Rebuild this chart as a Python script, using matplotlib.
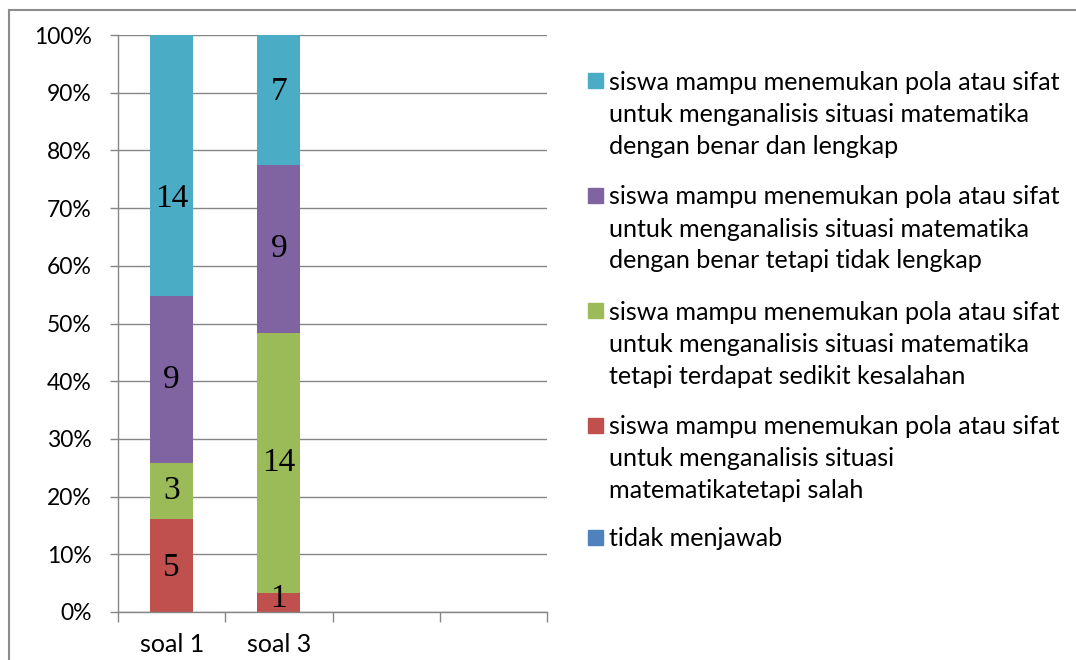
import matplotlib
matplotlib.use("Agg")
import matplotlib.pyplot as plt
from matplotlib.patches import Rectangle
from matplotlib.lines import Line2D
import numpy as np

# ---- data ----
categories = ["soal 1", "soal 3", "", ""]
series_names = [
    "tidak menjawab",
    "siswa mampu menemukan pola atau sifat\nuntuk menganalisis situasi\nmatematikatetapi salah",
    "siswa mampu menemukan pola atau sifat\nuntuk menganalisis situasi matematika\ntetapi terdapat sedikit kesalahan",
    "siswa mampu menemukan pola atau sifat\nuntuk menganalisis situasi matematika\ndengan benar tetapi tidak lengkap",
    "siswa mampu menemukan pola atau sifat\nuntuk menganalisis situasi matematika\ndengan benar dan lengkap",
]
tidak_menjawab = [0, 0]
salah = [5, 1]
sedikit_kesalahan = [3, 14]
tidak_lengkap = [9, 9]
benar_lengkap = [14, 7]
y_ticks = [0, 10, 20, 30, 40, 50, 60, 70, 80, 90, 100]
y_tick_labels = [f"{v}%" for v in y_ticks]

colors = ["#4F81BD", "#C0504D", "#9BBB59", "#8064A2", "#4BACC6"]
series = [tidak_menjawab, salah, sedikit_kesalahan, tidak_lengkap, benar_lengkap]

W, H = 1076, 660
fig = plt.figure(figsize=(W / 100, H / 100), dpi=100)

def fx(px):
    return px / W

def fy(py):
    return 1 - py / H

ax = fig.add_axes([fx(118), fy(612), fx(547) - fx(118), fy(35) - fy(612)])

vals = np.array(series, dtype=float)
totals = vals.sum(axis=0)
pct = vals / totals * 100
x = np.arange(len(totals))
bottom = np.zeros(len(totals))
label_font = "Liberation Serif"
# manual label nudges (points) for the data labels, per series/category
nudges = {(4, 0): -24, (4, 1): 6, (1, 1): 3, (1, 0): -2}
for i, (p, v) in enumerate(zip(pct, vals)):
    ax.bar(x, p, bottom=bottom, width=0.4, color=colors[i], zorder=2)
    for j in range(len(x)):
        if v[j] > 0:
            yc = bottom[j] + p[j] / 2
            ax.annotate(f"{int(v[j])}", (x[j], yc), xytext=(0, nudges.get((i, j), 0)),
                        textcoords="offset points", ha="center", va="center",
                        fontsize=24, family=label_font, color="black", zorder=3)
    bottom += p

grid_c = "#868686"
ax.set_xlim(-0.5, len(categories) - 0.5)
ax.set_ylim(0, 100)
ax.set_yticks(y_ticks)
ax.set_yticklabels(y_tick_labels)
ax.yaxis.grid(True, color=grid_c, linewidth=1.0, zorder=0)
ax.set_axisbelow(True)
for s in ["top", "right"]:
    ax.spines[s].set_visible(False)
for s in ["left", "bottom"]:
    ax.spines[s].set_color(grid_c)
    ax.spines[s].set_linewidth(1.0)

ax.set_xticks(np.arange(len(categories) + 1) - 0.5)
ax.set_xticklabels([])
ax.set_xticks(np.arange(len(categories)), minor=True)
ax.set_xticklabels(categories, minor=True)
ax.tick_params(axis="x", which="major", length=7, color=grid_c, width=1.0)
ax.tick_params(axis="x", which="minor", length=0, pad=15)
ax.tick_params(axis="y", length=6, color=grid_c, width=1.0, pad=13)
tick_font = "Lato"
for lab in ax.get_yticklabels():
    lab.set_fontfamily(tick_font)
    lab.set_fontsize(16.5)
    lab.set_color("black")
for lab in ax.get_xticklabels(minor=True):
    lab.set_fontfamily(tick_font)
    lab.set_fontsize(18)
    lab.set_color("black")

# legend drawn manually (Excel-style: marker aligned with first line)
leg_order = [4, 3, 2, 1, 0]
first_line_y = [80, 195, 310, 425, 537]
line_px = 32
for k, idx in enumerate(leg_order):
    yc = first_line_y[k]
    fig.patches.append(Rectangle((fx(588), fy(yc + 7.5)), fx(603) - fx(588), (15 / H),
                                 transform=fig.transFigure, color=colors[idx]))
    for li, line in enumerate(series_names[idx].split("\n")):
        fig.text(fx(609), fy(yc + li * line_px), line, ha="left", va="center_baseline",
                 fontsize=18.1, family=tick_font, color="black")

# outer frame
fig.add_artist(Line2D([fx(9), 1], [fy(10), fy(10)], color="#8c8c8c", lw=1.5, transform=fig.transFigure))
fig.add_artist(Line2D([fx(9), fx(9)], [fy(10), 0], color="#8c8c8c", lw=1.5, transform=fig.transFigure))

fig.savefig("out.png", dpi=100)
